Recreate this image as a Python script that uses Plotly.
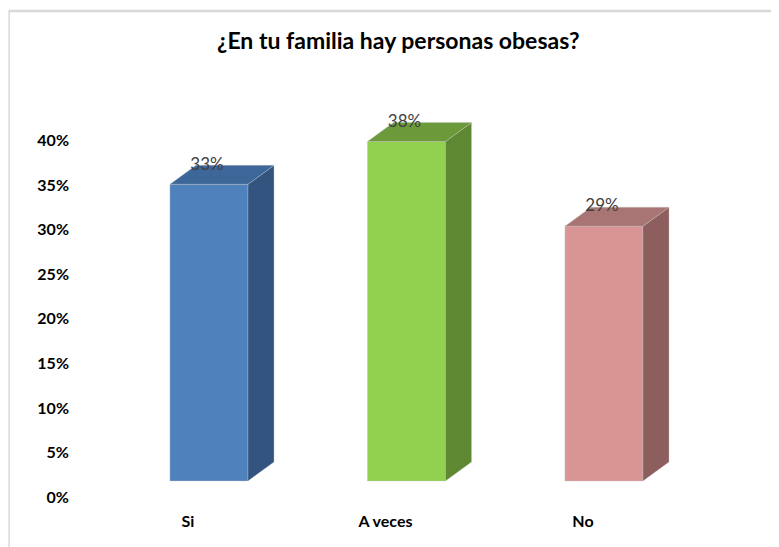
import plotly.graph_objects as go

categories = ["Si", "A veces", "No"]
values = [0.333, 0.381, 0.286]
labels = ["33%", "38%", "29%"]
front_colors = ["#4F81BD", "#92D050", "#D99594"]
side_colors = ["#32547F", "#5E8832", "#8C5E5D"]
top_colors = ["#3E6799", "#6C9A3B", "#A87574"]
y_ticks = [0, 0.05, 0.10, 0.15, 0.20, 0.25, 0.30, 0.35, 0.40]
y_ticktext = ["0%", "5%", "10%", "15%", "20%", "25%", "30%", "35%", "40%"]

W = 0.395   # front width (x units)
DX = 0.132  # depth in x units
DY = 0.0213 # depth in y units

L, R, T, B = 70, 47, 97, 58
x_rng = [-0.557, 2.795]
x_shift = 0.106
y_rng = [0, 0.44]
y_shift = 0.018

fig = go.Figure()
xs = list(range(len(categories)))

# invisible trace anchoring the primary axes
fig.add_trace(go.Scatter(x=xs, y=[0 for _ in xs], mode="markers", marker=dict(opacity=0),
                         hoverinfo="skip", showlegend=False))

# front faces
fig.add_trace(go.Bar(
    x=xs, y=values, width=W, marker=dict(color=front_colors, line=dict(color="rgba(200,200,200,0.6)", width=0.6)),
    xaxis="x2", yaxis="y2", hoverinfo="skip", showlegend=False))

for i, v in enumerate(values):
    xr = i + W / 2
    xl = i - W / 2
    # side face
    fig.add_trace(go.Scatter(
        x=[xr, xr + DX, xr + DX, xr, xr], y=[0, DY, v + DY, v, 0],
        fill="toself", fillcolor=side_colors[i], mode="lines",
        line=dict(color="rgba(200,200,200,0.6)", width=0.6),
        xaxis="x2", yaxis="y2", hoverinfo="skip", showlegend=False))
    # top face
    fig.add_trace(go.Scatter(
        x=[xl, xl + DX, xr + DX, xr, xl], y=[v, v + DY, v + DY, v, v],
        fill="toself", fillcolor=top_colors[i], mode="lines",
        line=dict(color="rgba(200,200,200,0.6)", width=0.6),
        xaxis="x2", yaxis="y2", hoverinfo="skip", showlegend=False))

# data labels
fig.add_trace(go.Scatter(
    x=[i - 0.01 for i in xs], y=[v + DY for v in values], text=labels,
    mode="text", textposition="middle center",
    textfont=dict(family="Lato", size=17, color="#404040"),
    xaxis="x2", yaxis="y2", hoverinfo="skip", showlegend=False))

fig.update_layout(
    width=779, height=547,
    margin=dict(l=L, r=R, t=T, b=B),
    paper_bgcolor="white", plot_bgcolor="rgba(0,0,0,0)",
    title=dict(text="<b>¿En tu familia hay personas obesas?</b>", x=0.501, xanchor="center",
               y=0.94, yanchor="middle", font=dict(family="Lato", size=23, color="black")),
    xaxis=dict(range=x_rng, tickvals=xs, ticktext=[f"<b>{c}</b>" for c in categories],
               showgrid=False, zeroline=False, showline=False, ticks="", automargin=False,
               ticklabelstandoff=13,
               tickfont=dict(family="Lato", size=16, color="black")),
    yaxis=dict(range=y_rng, tickvals=y_ticks, ticktext=[f"<b>{t}</b>" for t in y_ticktext],
               showgrid=False, zeroline=False, showline=False, ticks="", automargin=False,
               ticklabelstandoff=8,
               tickfont=dict(family="Lato", size=16, color="black")),
    xaxis2=dict(range=[x_rng[0] - x_shift, x_rng[1] - x_shift], overlaying="x", visible=False),
    yaxis2=dict(range=[y_rng[0] - y_shift, y_rng[1] - y_shift], overlaying="y", visible=False),
    shapes=[
        dict(type="line", xref="paper", yref="paper", x0=-0.105, x1=1.2, y0=1.24, y1=1.24,
             line=dict(color="#D9D9D9", width=2.5)),
        dict(type="line", xref="paper", yref="paper", x0=-0.104, x1=-0.104, y0=1.24, y1=-0.15,
             line=dict(color="#D9D9D9", width=1.5)),
    ],
)

fig.write_html("out.html")
